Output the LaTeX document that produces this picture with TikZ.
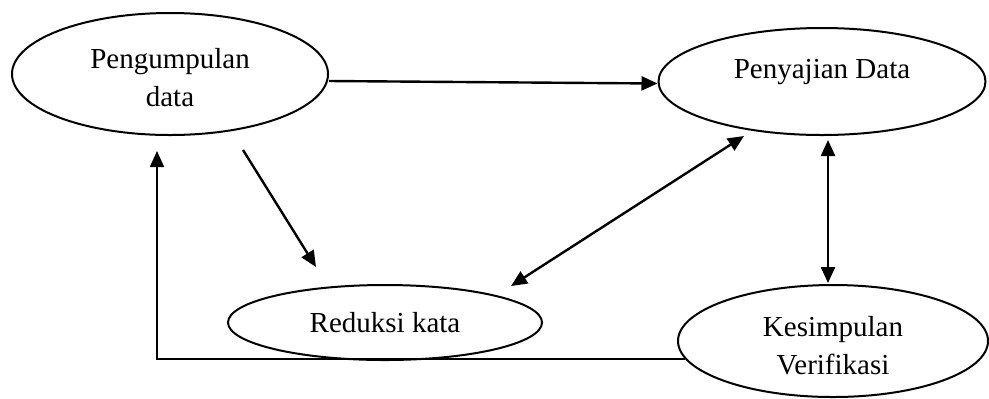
\documentclass[tikz,border=0pt]{standalone}
\usepackage{fontspec}
\setmainfont{Liberation Serif}
\usetikzlibrary{shapes.geometric,arrows.meta}
\begin{document}
\begin{tikzpicture}[x=0.5pt,y=-0.5pt,
        tahap/.style={draw,ellipse,line width=1pt,inner sep=0pt},
        teks/.style={align=center,font=\fontsize{14.5}{19}\selectfont},
        panah/.style={line width=1.2pt,-{Triangle[length=8pt,width=7pt]}},
        duapanah/.style={line width=1.2pt,{Triangle[length=8pt,width=7pt]}-{Triangle[length=8pt,width=7pt]}}]
            \useasboundingbox (0,0) rectangle (989,398);
            \node (A) [tahap,minimum width=158pt,minimum height=61pt] at (170,74) {};
            \node (B) [tahap,minimum width=163.5pt,minimum height=53.5pt] at (822,81.5) {};
            \node (C) [tahap,minimum width=157pt,minimum height=37.5pt] at (385,322.5) {};
            \node (D) [tahap,minimum width=155pt,minimum height=56pt] at (833,341) {};
            \node (a) [teks,yshift=-2pt] at (A) {Pengumpulan\\data};
            \node (b) [teks,yshift=4.75pt] at (B) {Penyajian Data};
            \node (c) [teks] at (C) {Reduksi kata};
            \node (d) [teks,yshift=-2.5pt] at (D) {Kesimpulan\\Verifikasi};
            \draw[panah] ([yshift=-3.5pt]A.east) -- ([yshift=-1pt]B.west);
            \draw[panah] ([xshift=36.5pt,yshift=-7pt]A.south) -- ([xshift=-34.5pt,yshift=8.5pt]C.north);
            \draw[duapanah] ([xshift=63pt,yshift=-1pt]C.north) -- ([xshift=-39pt]B.south);
            \draw[duapanah] ([xshift=3pt,yshift=-2pt]B.south) -- ([xshift=-2.5pt,yshift=0.5pt]D.north);
            % umpan balik ke pengumpulan data
            \draw[panah,line width=0.9pt] ([xshift=4pt,yshift=-9pt]D.west) -| ([xshift=-6.5pt,yshift=-7.5pt]A.south);
        \end{tikzpicture}
\end{document}
